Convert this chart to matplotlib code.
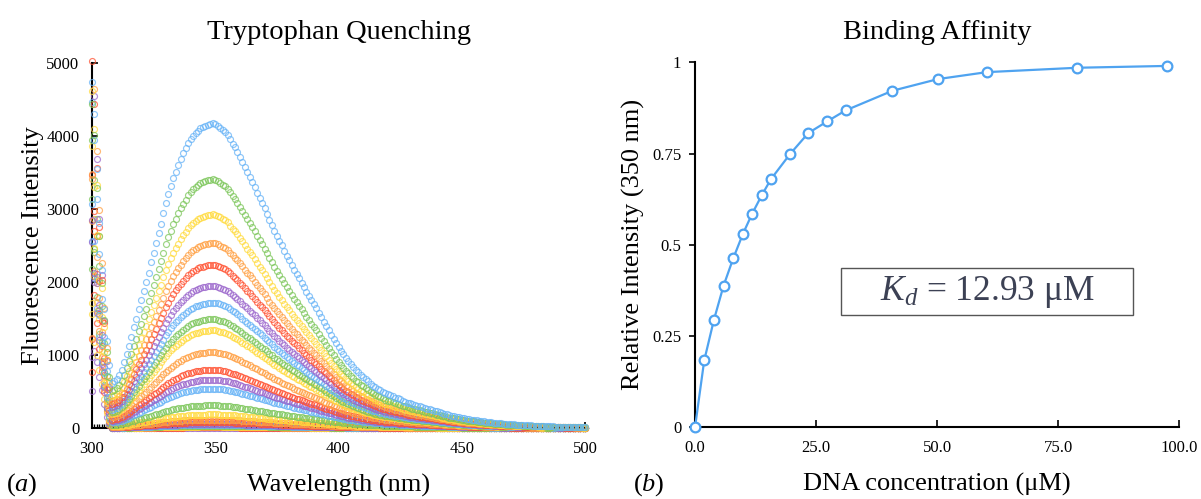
import matplotlib
matplotlib.use('Agg')
import matplotlib.pyplot as plt
from matplotlib.patches import Rectangle
import numpy as np

plt.rcParams['font.family'] = ['Liberation Serif', 'DejaVu Serif']
plt.rcParams['mathtext.fontset'] = 'custom'
plt.rcParams['mathtext.rm'] = 'Liberation Serif'
plt.rcParams['mathtext.it'] = 'Liberation Serif:italic'

# ---- panel (a): emission spectra, one point per nm from 300 to 500 ----
wavelengths = np.arange(300, 501)

# emission profile of the top (unquenched) spectrum, read every 1 nm
top_profile = [
    100, 140, 190, 250, 320, 400, 480, 560, 620, 640,                 # 300-309
    670, 730, 800, 900, 1010, 1120, 1250, 1380, 1500, 1630,           # 310-319
    1750, 1880, 2000, 2130, 2270, 2400, 2530, 2670, 2800, 2940,       # 320-329
    3080, 3200, 3310, 3420, 3510, 3600, 3680, 3760, 3830, 3900,       # 330-339
    3960, 4000, 4040, 4070, 4100, 4120, 4135, 4150, 4160, 4170,       # 340-349
    4165, 4140, 4110, 4080, 4050, 4010, 3950, 3890, 3840, 3780,       # 350-359
    3710, 3640, 3570, 3500, 3440, 3370, 3300, 3220, 3150, 3080,       # 360-369
    3010, 2930, 2850, 2780, 2700, 2630, 2560, 2500, 2430, 2360,       # 370-379
    2300, 2230, 2170, 2110, 2050, 1990, 1930, 1870, 1810, 1750,       # 380-389
    1700, 1640, 1580, 1520, 1460, 1400, 1340, 1280, 1220, 1160,       # 390-399
    1110, 1060, 1010, 960, 920, 880, 840, 800, 770, 730,              # 400-409
    700, 670, 640, 610, 585, 560, 540, 520, 500, 480,                 # 410-419
    465, 450, 435, 420, 410, 395, 380, 365, 350, 340,                 # 420-429
    330, 320, 310, 300, 290, 280, 270, 260, 250, 240,                 # 430-439
    230, 220, 210, 200, 190, 180, 172, 164, 156, 148,                 # 440-449
    140, 135, 130, 125, 120, 115, 110, 105, 100, 95,                  # 450-459
    90, 86, 82, 78, 74, 70, 67, 64, 61, 58,                           # 460-469
    55, 53, 51, 49, 47, 45, 43, 41, 39, 37,                           # 470-479
    35, 34, 32, 31, 29, 28, 27, 26, 24, 23,                           # 480-489
    22, 21, 20, 20, 19, 18, 17, 16, 16, 15,                           # 490-499
    14,                                                               # 500
]

# intensity at ~349 nm for each titration step
peak_heights = [4170, 3406, 2927, 2535, 2239, 1952, 1720, 1495, 1341, 1044,
                803, 666, 543, 315, 190, 120, 85, 60, 45, 35, 25, 18, 12, 8]

# scattered light on top of the emission, 300-307 nm, per spectrum
scatter = [
    [4640, 4160, 3360, 2560, 1850, 1230, 720, 300],
    [4350, 3900, 3130, 2420, 1730, 1160, 650, 250],
    [4540, 3990, 3200, 2460, 1700, 1100, 600, 230],
    [3420, 4560, 3680, 2830, 2060, 1400, 800, 300],
    [4970, 4360, 3460, 2620, 1860, 1230, 680, 260],
    [2800, 4480, 3600, 2750, 1950, 1280, 700, 270],
    [4420, 3890, 3060, 2280, 1640, 1080, 580, 200],
    [3900, 3350, 2800, 2130, 1560, 1020, 540, 190],
    [3830, 3250, 2580, 1950, 1420, 920, 480, 160],
    [3380, 2830, 2290, 1720, 1240, 800, 420, 130],
    [750, 2950, 2590, 1960, 1400, 880, 440, 140],
    [500, 2100, 1950, 1640, 1220, 780, 400, 120],
    [3050, 2540, 2000, 1510, 1100, 700, 360, 100],
    [2170, 2400, 2060, 1600, 1150, 740, 380, 110],
    [1710, 2460, 1980, 1480, 1060, 680, 340, 90],
    [1230, 2080, 1720, 1330, 960, 620, 300, 80],
    [3460, 2700, 2100, 1560, 1120, 720, 360, 90],
    [2550, 2000, 1580, 1200, 880, 560, 270, 70],
    [2560, 2050, 1640, 1240, 900, 580, 280, 70],
    [3140, 2450, 1800, 1290, 920, 590, 280, 60],
    [1560, 1180, 1000, 800, 600, 400, 200, 50],
    [2830, 2150, 1600, 1180, 840, 540, 260, 60],
    [1220, 1820, 1440, 1080, 780, 500, 240, 50],
    [980, 1050, 900, 700, 520, 330, 160, 40],
]

palette = ['#66b3f7', '#7cc65a', '#ffdb3d', '#ffa043', '#ff5232', '#9b66cc']

# ---- panel (b): binding curve ----
dna_conc = [0, 1.9, 3.9, 5.9, 7.9, 9.9, 11.8, 13.8, 15.7, 19.6, 23.4, 27.3,
            31.1, 40.8, 50.2, 60.3, 79.0, 97.5]
rel_intensity = [0, 0.183, 0.294, 0.388, 0.463, 0.530, 0.585, 0.636, 0.680,
                 0.748, 0.806, 0.838, 0.868, 0.922, 0.954, 0.973, 0.985, 0.990]
kd_label = r'$K_d$ = 12.93 μM'

fig = plt.figure(figsize=(12.01, 4.99), dpi=100)
ax1 = fig.add_axes([0.0766, 0.1417, 0.4105, 0.7327])
ax2 = fig.add_axes([0.5787, 0.1437, 0.403, 0.7315])

profile = np.array(top_profile, dtype=float)
profile = profile / profile.max()
for i in range(len(peak_heights) - 1, -1, -1):
    y = peak_heights[i] * profile
    y[:len(scatter[i])] += scatter[i]
    ax1.plot(wavelengths, y, linestyle='none', marker='o', markersize=4.3,
             mfc='none', mec=palette[i % len(palette)], mew=0.85, alpha=0.75,
             clip_on=False, zorder=3)

ax1.set_xlim(300, 500)
ax1.set_ylim(0, 5000)
ax1.set_xticks([300, 350, 400, 450, 500])
ax1.set_xticks(np.arange(300, 309), minor=True)
ax1.set_yticks(np.arange(0, 5001, 1000))
ax1.tick_params(axis='both', labelsize=12, direction='in', length=4, width=1.2, pad=9)
ax1.tick_params(axis='x', which='minor', direction='in', length=3, width=1)
ax1.set_title('Tryptophan Quenching', fontsize=20.5, pad=17)
ax1.set_xlabel('Wavelength (nm)', fontsize=19, labelpad=12)
ax1.set_ylabel('Fluorescence Intensity', fontsize=19, labelpad=2)

ax2.plot(dna_conc, rel_intensity, color='#4fa3f0', lw=1.6, marker='o',
         markersize=7, mfc='white', mec='#4fa3f0', mew=1.6, clip_on=False, zorder=3)
ax2.set_xlim(0, 100)
ax2.set_ylim(0, 1)
ax2.set_xticks([0, 25, 50, 75, 100])
ax2.set_xticklabels(['0.0', '25.0', '50.0', '75.0', '100.0'])
ax2.set_yticks([0, 0.25, 0.5, 0.75, 1])
ax2.set_yticklabels(['0', '0.25', '0.5', '0.75', '1'])
ax2.tick_params(axis='x', labelsize=12, direction='in', length=5, width=1.2, pad=9)
ax2.tick_params(axis='y', labelsize=12, direction='out', length=4, width=1.2, pad=6)
ax2.set_title('Binding Affinity', fontsize=20.5, pad=17)
ax2.set_xlabel('DNA concentration (μM)', fontsize=19, labelpad=12)
ax2.set_ylabel('Relative Intensity (350 nm)', fontsize=19, labelpad=5)

for ax in (ax1, ax2):
    for side in ('top', 'right'):
        ax.spines[side].set_visible(False)
    for side in ('left', 'bottom'):
        ax.spines[side].set_linewidth(1.5)
        ax.spines[side].set_color('black')

# Kd box
fig.patches.append(Rectangle((0.7003, 0.3687), 0.2431, 0.0942, transform=fig.transFigure,
                             fill=False, edgecolor='#555555', lw=1.0))
fig.text(0.8218, 0.4158, kd_label, fontsize=25.5, color='#3c4154', ha='center', va='center')

fig.text(0.018, 0.028, r'$(\mathit{a})$', fontsize=19, ha='center', va='center')
fig.text(0.540, 0.028, r'$(\mathit{b})$', fontsize=19, ha='center', va='center')

plt.savefig('out.png', dpi=100)
